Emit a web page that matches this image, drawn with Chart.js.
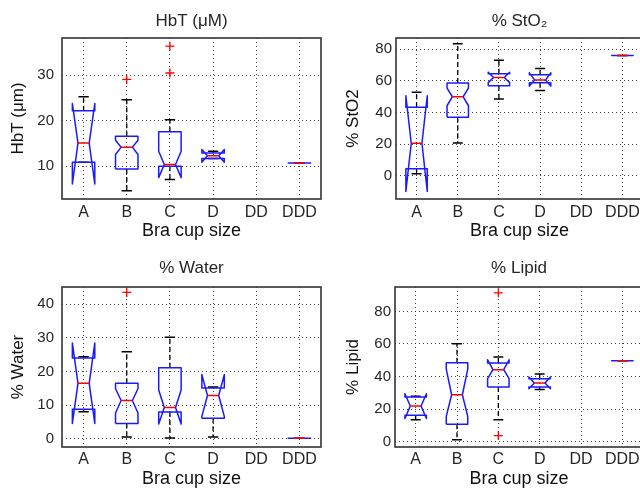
<!DOCTYPE html>
<html>
<head>
<meta charset="utf-8">
<script src="https://cdn.jsdelivr.net/npm/chart.js@4.4.1/dist/chart.umd.min.js"></script>
<style>
  html, body { margin: 0; padding: 0; background: #fff; }
  body { width: 640px; height: 490px; overflow: hidden; position: relative; }
  canvas { position: absolute; }
</style>
</head>
<body>
<canvas id="graficoHbT" width="330" height="245" style="left:0;top:0"></canvas>
<canvas id="graficoStO2" width="330" height="245" style="left:320px;top:0"></canvas>
<canvas id="graficoWater" width="330" height="245" style="left:0;top:245px"></canvas>
<canvas id="graficoLipid" width="330" height="245" style="left:320px;top:245px"></canvas>
<script>
const categories = ["A", "B", "C", "D", "DD", "DDD"];

// HbT (uM)
const hbtQ1 = [10.9, 9.4, 10.0, 11.7, null, 10.7];
const hbtMedian = [15.1, 14.2, 10.4, 12.3, null, 10.7];
const hbtQ3 = [22.2, 16.6, 17.6, 12.9, null, 10.7];
const hbtNotchLo = [6.1, 12.6, 7.5, 10.9, null, 10.7];
const hbtNotchHi = [23.8, 15.7, 13.3, 13.7, null, 10.7];
const hbtWhiskerLo = [10.9, 4.6, 7.1, 11.7, null, 10.7];
const hbtWhiskerHi = [25.3, 24.6, 20.2, 13.3, null, 10.7];
const hbtOutliers = [[], [29.1], [30.5, 36.4], [], [], []];

// % StO2
const sto2Q1 = [4.4, 36.9, 56.8, 58.7, null, 76.0];
const sto2Median = [20.5, 49.9, 62.1, 60.4, null, 76.0];
const sto2Q3 = [43.2, 58.5, 64.4, 63.8, null, 76.0];
const sto2NotchLo = [-9.9, 44.2, 58.8, 56.6, null, 76.0];
const sto2NotchHi = [50.5, 55.4, 65.4, 65.0, null, 76.0];
const sto2WhiskerLo = [1.3, 20.6, 48.4, 53.9, null, 76.0];
const sto2WhiskerHi = [52.8, 83.3, 72.9, 67.8, null, 76.0];
const sto2Outliers = [[], [], [], [], [], []];

// % Water
const waterQ1 = [8.8, 4.6, 8.0, 6.1, null, 0.2];
const waterMedian = [16.5, 11.4, 9.3, 12.9, null, 0.2];
const waterQ3 = [24.0, 16.5, 21.1, 15.1, null, 0.2];
const waterNotchLo = [4.6, 7.7, 4.4, 6.7, null, 0.2];
const waterNotchHi = [28.5, 14.9, 14.5, 19.1, null, 0.2];
const waterWhiskerLo = [8.1, 0.6, 0.3, 0.6, null, 0.2];
const waterWhiskerHi = [24.4, 25.9, 30.2, 15.4, null, 0.2];
const waterOutliers = [[], [43.5], [], [], [], []];

// % Lipid
const lipidQ1 = [16.2, 10.7, 33.6, 33.6, null, 49.7];
const lipidMedian = [21.9, 28.8, 44.2, 36.0, null, 49.7];
const lipidQ3 = [27.4, 48.5, 48.3, 38.7, null, 49.7];
const lipidNotchLo = [14.2, 15.5, 38.7, 32.5, null, 49.7];
const lipidNotchHi = [29.4, 44.5, 50.3, 39.7, null, 49.7];
const lipidWhiskerLo = [13.5, 1.2, 13.5, 32.1, null, 49.7];
const lipidWhiskerHi = [27.9, 60.1, 52.0, 41.5, null, 49.7];
const lipidOutliers = [[], [], [3.7, 91.4], [], [], []];

const FONTE = "'Liberation Sans', Arial, sans-serif";
const COR_TEXTO = "#262626";

// meia largura da caixa, do entalhe e da tampa (em unidades de categoria)
const HW = 0.26;
const NW = 0.13;
const CW = 0.12;

function montarDatasets(q1, med, q3, nLo, nHi, wLo, wHi, outliers) {
  let caixa = [];
  let mediana = [];
  let bigode = [];
  let tampa = [];
  let pontos = [];

  for (let i = 0; i < categories.length; i++) {
    if (med[i] === null) continue;
    let c = i + 1;
    caixa.push(
      { x: c - HW, y: q1[i] }, { x: c - HW, y: nLo[i] }, { x: c - NW, y: med[i] },
      { x: c - HW, y: nHi[i] }, { x: c - HW, y: q3[i] }, { x: c + HW, y: q3[i] },
      { x: c + HW, y: nHi[i] }, { x: c + NW, y: med[i] }, { x: c + HW, y: nLo[i] },
      { x: c + HW, y: q1[i] }, { x: c - HW, y: q1[i] }, { x: c, y: null }
    );
    mediana.push({ x: c - NW, y: med[i] }, { x: c + NW, y: med[i] }, { x: c, y: null });
    bigode.push(
      { x: c, y: q3[i] }, { x: c, y: wHi[i] }, { x: c, y: null },
      { x: c, y: q1[i] }, { x: c, y: wLo[i] }, { x: c, y: null }
    );
    tampa.push(
      { x: c - CW, y: wHi[i] }, { x: c + CW, y: wHi[i] }, { x: c, y: null },
      { x: c - CW, y: wLo[i] }, { x: c + CW, y: wLo[i] }, { x: c, y: null }
    );
    for (let j = 0; j < outliers[i].length; j++) {
      pontos.push({ x: c, y: outliers[i][j] });
    }
  }

  const base = { pointRadius: 0, fill: false, tension: 0, spanGaps: false, borderJoinStyle: "round" };

  return [
    { ...base, label: "mediana", data: mediana, borderColor: "#ff0000", borderWidth: 1.5, order: 0 },
    {
      type: "scatter", label: "outliers", data: pontos, order: 0,
      pointStyle: "cross", pointRadius: 4.5, borderColor: "#ff0000",
      pointBorderColor: "#ff0000", pointBorderWidth: 1.3, showLine: false,
    },
    { ...base, label: "caixa", data: caixa, borderColor: "#1a1aff", borderWidth: 1.5, order: 1 },
    { ...base, label: "tampa", data: tampa, borderColor: "#000000", borderWidth: 1.5, order: 2 },
    { ...base, label: "bigode", data: bigode, borderColor: "#000000", borderWidth: 1.3, borderDash: [5, 3], order: 3 },
  ];
}

// moldura fechada do eixo (estilo MATLAB)
const molduraPlugin = {
  id: "moldura",
  afterDraw(chart) {
    const { ctx, chartArea } = chart;
    ctx.save();
    ctx.strokeStyle = "#333333";
    ctx.lineWidth = 1.6;
    ctx.strokeRect(chartArea.left, chartArea.top, chartArea.right - chartArea.left, chartArea.bottom - chartArea.top);
    ctx.restore();
  },
};

function gerarGrafico(id, cfg, datasets) {
  new Chart(document.getElementById(id), {
    type: "line",
    data: { datasets: datasets },
    plugins: [molduraPlugin],
    options: {
      responsive: false,
      animation: false,
      devicePixelRatio: 1,
      events: [],
      layout: { padding: { top: 0, right: cfg.padRight, bottom: 0, left: 0 } },
      plugins: {
        legend: { display: false },
        tooltip: { enabled: false },
        title: {
          display: true,
          text: cfg.titulo,
          fullSize: false,
          color: COR_TEXTO,
          font: { family: FONTE, size: 17, weight: "normal", lineHeight: "18px" },
          padding: { top: cfg.titleTop, bottom: cfg.titleBottom },
        },
      },
      scales: {
        x: {
          type: "linear",
          min: 0.5,
          max: 6.5,
          afterBuildTicks: function (scale) {
            scale.ticks = categories.map(function (c, i) { return { value: i + 1 }; });
          },
          afterFit: function (scale) { scale.height = cfg.xAxisHeight; },
          ticks: {
            autoSkip: false,
            maxRotation: 0,
            padding: cfg.xTickPad,
            color: COR_TEXTO,
            font: { family: FONTE, size: 16 },
            callback: function (value) { return categories[Math.round(value) - 1]; },
          },
          grid: { color: "rgba(0,0,0,0.75)", lineWidth: 1, drawTicks: false },
          border: { display: false, dash: [1, 3] },
          title: {
            display: true,
            text: "Bra cup size",
            color: "#111",
            font: { family: FONTE, size: 18, lineHeight: "20px" },
            padding: { top: 0, bottom: cfg.xTitleBottom },
          },
        },
        y: {
          type: "linear",
          min: cfg.yMin,
          max: cfg.yMax,
          afterFit: function (scale) { scale.width = cfg.yAxisWidth; },
          ticks: {
            stepSize: cfg.yStep,
            includeBounds: false,
            padding: cfg.yTickPad,
            color: COR_TEXTO,
            font: { family: FONTE, size: 15 },
          },
          grid: { color: "rgba(0,0,0,0.75)", lineWidth: 1, drawTicks: false },
          border: { display: false, dash: [1, 3] },
          title: {
            display: true,
            text: cfg.yTitulo,
            color: "#111",
            font: { family: FONTE, size: 17, lineHeight: "20px" },
            padding: { top: cfg.yTitlePad, bottom: 0 },
          },
        },
      },
    },
  });
}

gerarGrafico("graficoHbT", {
  titulo: "HbT (μM)", yTitulo: "HbT (μm)",
  yMin: 2.8, yMax: 38.2, yStep: 10,
  padRight: 9, titleTop: 12, titleBottom: 8,
  yAxisWidth: 62, yTickPad: 8, yTitlePad: 8,
  xAxisHeight: 46, xTickPad: 4, xTitleBottom: 4,
}, montarDatasets(hbtQ1, hbtMedian, hbtQ3, hbtNotchLo, hbtNotchHi, hbtWhiskerLo, hbtWhiskerHi, hbtOutliers));

gerarGrafico("graficoStO2", {
  titulo: "% StO₂", yTitulo: "% StO2",
  yMin: -14.7, yMax: 87, yStep: 20,
  padRight: 7, titleTop: 12, titleBottom: 8,
  yAxisWidth: 76, yTickPad: 4, yTitlePad: 23,
  xAxisHeight: 46, xTickPad: 4, xTitleBottom: 4,
}, montarDatasets(sto2Q1, sto2Median, sto2Q3, sto2NotchLo, sto2NotchHi, sto2WhiskerLo, sto2WhiskerHi, sto2Outliers));

gerarGrafico("graficoWater", {
  titulo: "% Water", yTitulo: "% Water",
  yMin: -2.4, yMax: 45.1, yStep: 10,
  padRight: 9, titleTop: 14, titleBottom: 10,
  yAxisWidth: 62, yTickPad: 8, yTitlePad: 8,
  xAxisHeight: 43, xTickPad: 3, xTitleBottom: 1,
}, montarDatasets(waterQ1, waterMedian, waterQ3, waterNotchLo, waterNotchHi, waterWhiskerLo, waterWhiskerHi, waterOutliers));

gerarGrafico("graficoLipid", {
  titulo: "% Lipid", yTitulo: "% Lipid",
  yMin: -3.3, yMax: 95, yStep: 20,
  padRight: 7, titleTop: 14, titleBottom: 10,
  yAxisWidth: 75, yTickPad: 4, yTitlePad: 23,
  xAxisHeight: 43, xTickPad: 3, xTitleBottom: 1,
}, montarDatasets(lipidQ1, lipidMedian, lipidQ3, lipidNotchLo, lipidNotchHi, lipidWhiskerLo, lipidWhiskerHi, lipidOutliers));
</script>
</body>
</html>
